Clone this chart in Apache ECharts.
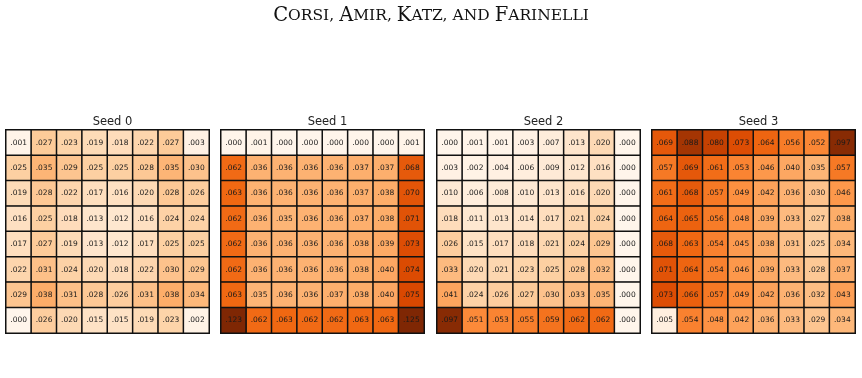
<!DOCTYPE html>
<html>
<head>
<meta charset="utf-8">
<script src="https://cdn.jsdelivr.net/npm/echarts@6/dist/echarts.min.js"></script>
<style>
  html, body { margin: 0; padding: 0; background: #fff; }
  #chart { width: 862px; height: 378px; }
</style>
</head>
<body>
<div id="chart"></div>
<script>
// 8x8 grids, rows top to bottom
const seed0 = [
  [0.001, 0.027, 0.023, 0.019, 0.018, 0.022, 0.027, 0.003],
  [0.025, 0.035, 0.029, 0.025, 0.025, 0.028, 0.035, 0.030],
  [0.019, 0.028, 0.022, 0.017, 0.016, 0.020, 0.028, 0.026],
  [0.016, 0.025, 0.018, 0.013, 0.012, 0.016, 0.024, 0.024],
  [0.017, 0.027, 0.019, 0.013, 0.012, 0.017, 0.025, 0.025],
  [0.022, 0.031, 0.024, 0.020, 0.018, 0.022, 0.030, 0.029],
  [0.029, 0.038, 0.031, 0.028, 0.026, 0.031, 0.038, 0.034],
  [0.000, 0.026, 0.020, 0.015, 0.015, 0.019, 0.023, 0.002]
]
const seed1 = [
  [0.000, 0.001, 0.000, 0.000, 0.000, 0.000, 0.000, 0.001],
  [0.062, 0.036, 0.036, 0.036, 0.036, 0.037, 0.037, 0.068],
  [0.063, 0.036, 0.036, 0.036, 0.036, 0.037, 0.038, 0.070],
  [0.062, 0.036, 0.035, 0.036, 0.036, 0.037, 0.038, 0.071],
  [0.062, 0.036, 0.036, 0.036, 0.036, 0.038, 0.039, 0.073],
  [0.062, 0.036, 0.036, 0.036, 0.036, 0.038, 0.040, 0.074],
  [0.063, 0.035, 0.036, 0.036, 0.037, 0.038, 0.040, 0.075],
  [0.123, 0.062, 0.063, 0.062, 0.062, 0.063, 0.063, 0.125]
]
const seed2 = [
  [0.000, 0.001, 0.001, 0.003, 0.007, 0.013, 0.020, 0.000],
  [0.003, 0.002, 0.004, 0.006, 0.009, 0.012, 0.016, 0.000],
  [0.010, 0.006, 0.008, 0.010, 0.013, 0.016, 0.020, 0.000],
  [0.018, 0.011, 0.013, 0.014, 0.017, 0.021, 0.024, 0.000],
  [0.026, 0.015, 0.017, 0.018, 0.021, 0.024, 0.029, 0.000],
  [0.033, 0.020, 0.021, 0.023, 0.025, 0.028, 0.032, 0.000],
  [0.041, 0.024, 0.026, 0.027, 0.030, 0.033, 0.035, 0.000],
  [0.097, 0.051, 0.053, 0.055, 0.059, 0.062, 0.062, 0.000]
]
const seed3 = [
  [0.069, 0.088, 0.080, 0.073, 0.064, 0.056, 0.052, 0.097],
  [0.057, 0.069, 0.061, 0.053, 0.046, 0.040, 0.035, 0.057],
  [0.061, 0.068, 0.057, 0.049, 0.042, 0.036, 0.030, 0.046],
  [0.064, 0.065, 0.056, 0.048, 0.039, 0.033, 0.027, 0.038],
  [0.068, 0.063, 0.054, 0.045, 0.038, 0.031, 0.025, 0.034],
  [0.071, 0.064, 0.054, 0.046, 0.039, 0.033, 0.028, 0.037],
  [0.073, 0.066, 0.057, 0.049, 0.042, 0.036, 0.032, 0.043],
  [0.005, 0.054, 0.048, 0.042, 0.036, 0.033, 0.029, 0.034]
]
const seedNames = ['Seed 0', 'Seed 1', 'Seed 2', 'Seed 3']
const seeds = [seed0, seed1, seed2, seed3]
const cells = ['0', '1', '2', '3', '4', '5', '6', '7']

// matplotlib Oranges
const oranges = ['#fff5eb', '#fee6ce', '#fdd0a2', '#fdae6b', '#fd8d3c', '#f16913', '#d94801', '#a63603', '#7f2704']

const lefts = [6, 221, 437, 652]
const gridSize = 203
const gridTop = 130

const chart = echarts.init(document.getElementById('chart'))

const grids = []
const xAxes = []
const yAxes = []
const series = []
const titles = [{
  text: '{b|C}{s|ORSI,} {b|A}{s|MIR,} {b|K}{s|ATZ,} {s|AND} {b|F}{s|ARINELLI}',
  left: 'center',
  top: 1,
  textStyle: {
    rich: {
      b: { fontFamily: 'DejaVu Serif', fontSize: 19.5, fontWeight: 'normal', color: '#111' },
      s: { fontFamily: 'DejaVu Serif', fontSize: 15.5, fontWeight: 'normal', color: '#111' }
    }
  }
}]

seeds.forEach((grid, i) => {
  grids.push({ left: lefts[i], top: gridTop, width: gridSize, height: gridSize })
  xAxes.push({ type: 'category', gridIndex: i, data: cells, show: false })
  yAxes.push({ type: 'category', gridIndex: i, data: cells, inverse: true, show: false })
  const data = []
  grid.forEach((row, r) => {
    row.forEach((v, c) => data.push([c, r, v]))
  })
  series.push({
    type: 'heatmap',
    xAxisIndex: i,
    yAxisIndex: i,
    data: data,
    itemStyle: { borderColor: '#111', borderWidth: 1.5 },
    label: {
      show: true,
      fontFamily: 'DejaVu Sans',
      fontSize: 7.5,
      color: '#1a1a1a',
      formatter: p => p.value[2].toFixed(3).slice(1)
    },
    emphasis: { disabled: true }
  })
  titles.push({
    text: seedNames[i],
    left: lefts[i] + gridSize / 2,
    textAlign: 'center',
    top: 111,
    textStyle: { fontFamily: 'DejaVu Sans', fontSize: 11.5, fontWeight: 'normal', color: '#222' }
  })
})

chart.setOption({
  animation: false,
  title: titles,
  grid: grids,
  xAxis: xAxes,
  yAxis: yAxes,
  visualMap: {
    show: false,
    min: 0,
    max: 0.1,
    calculable: false,
    seriesIndex: [0, 1, 2, 3],
    inRange: { color: oranges }
  },
  series: series
})
</script>
</body>
</html>
